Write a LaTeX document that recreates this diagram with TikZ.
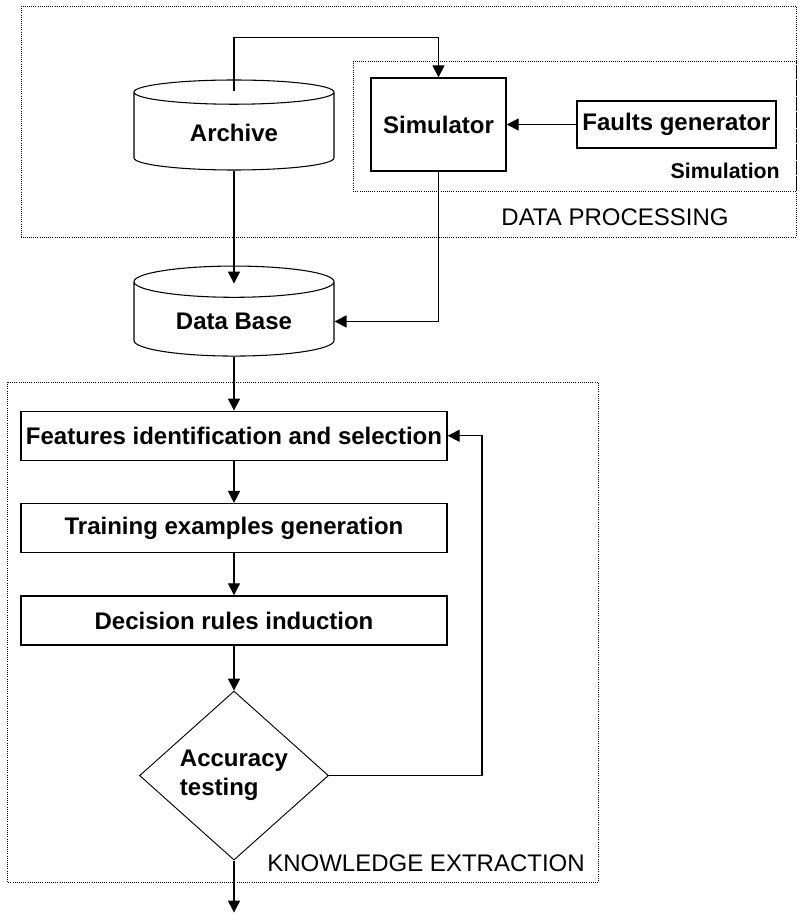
\documentclass[tikz,border=0pt]{standalone}
\usepackage{fontspec}
\setmainfont{Liberation Sans}
\usetikzlibrary{positioning,shapes.geometric,arrows.meta}

\tikzset{
 block/.style={draw, line width=1pt, inner sep=2pt, font=\fontsize{18}{21.75}\selectfont\bfseries},
 stepbox/.style={block, minimum width=319.5pt, minimum height=36.75pt},
 store/.style={draw, line width=0.8pt, cylinder, shape border rotate=90, aspect=0.25,
  minimum width=150pt, minimum height=67.5pt, font=\fontsize{18}{21.75}\selectfont\bfseries},
 test/.style={draw, line width=0.7pt, diamond, aspect=1.12, inner sep=0pt,
  minimum width=141.75pt, minimum height=126.75pt, align=left,
  font=\fontsize{18}{21.75}\selectfont\bfseries},
 flow/.style={line width=1pt, -{Triangle[length=9pt,width=9pt]}},
 area/.style={densely dotted, line width=0.6pt},
 title/.style={inner sep=0pt, font=\fontsize{18}{21.75}\selectfont},
}

\begin{document}
\begin{tikzpicture}[x=0.75pt, y=-0.75pt]
 \useasboundingbox (0,0) rectangle (802,916);
 % data processing
 \draw[area] (21,6) rectangle (796,237);
 \draw[area] (353,61) rectangle (796,191);
 \node[store, anchor=shape center] (archive) at (234,125) {Archive};
 \node[block, minimum width=101.25pt, minimum height=69.75pt] (simulator) at (438.5,124.5) {Simulator};
 \node[block, minimum width=149.25pt, minimum height=35.25pt] (faults) at (676.5,124.5) {Faults generator};
 \node[title, anchor=east, font=\fontsize{16}{19}\selectfont\bfseries] (simlabel) at (780,171) {Simulation};
 \node[title] (dplabel) at (615,217) {DATA PROCESSING};
 \node[store, below=71.25pt of archive] (database) {Data Base};

 % knowledge extraction
 \draw[area] (7,382) rectangle (598,882);
 \node[stepbox, below=40.5pt of database] (features) {Features identification and selection};
 \node[stepbox, below=31.5pt of features] (training) {Training examples generation};
 \node[stepbox, below=31.5pt of training] (decision) {Decision rules induction};
 \node[test, below=33.75pt of decision] (accuracy) {Accuracy\\testing};
 \node[title] (kelabel) at (426,863) {KNOWLEDGE EXTRACTION};
 \coordinate[below=39pt of accuracy] (out);

 \draw[flow] ([yshift=-9pt]archive.north) -- ++(0,-54) -| (simulator.north);
 \draw[flow] (faults) -- (simulator);
 \draw[flow] (archive) -- ([yshift=-13.5pt]database.north);
 \draw[flow] (simulator.south) |- (database.east);
 \draw[flow] (database) -- (features);
 \draw[flow] (features) -- (training);
 \draw[flow] (training) -- (decision);
 \draw[flow] (decision) -- (accuracy);
 \draw[flow] (accuracy.east) -- ++(153,0) |- (features.east);
 \draw[flow] (accuracy) -- (out);
\end{tikzpicture}
\end{document}
